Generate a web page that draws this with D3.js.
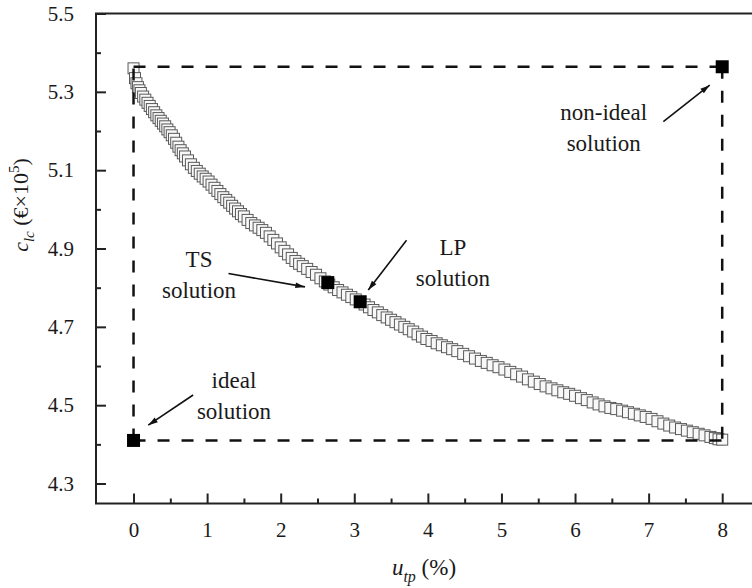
<!DOCTYPE html>
<html>
<head>
<meta charset="utf-8">
<script src="https://cdn.jsdelivr.net/npm/d3@7"></script>
<style>
  body { margin: 0; background: #fff; }
  svg { display: block; }
  text { font-family: "Times New Roman", "Liberation Serif", "DejaVu Serif", serif; fill: #1a1a1a; }
</style>
</head>
<body>
<svg id="chart" width="752" height="588"></svg>
<script>
// pareto front: u_tp (%) and c_lc (x10^5 EUR)
var paretoX = [0.00, 0.02, 0.04, 0.06, 0.08, 0.10, 0.13, 0.16, 0.19, 0.22, 0.25, 0.28, 0.31, 0.34, 0.37,
    0.40, 0.43, 0.46, 0.49, 0.52, 0.55, 0.58, 0.61, 0.64, 0.67, 0.70, 0.74, 0.78, 0.82, 0.86,
    0.90, 0.94, 0.98, 1.02, 1.06, 1.10, 1.14, 1.18, 1.22, 1.26, 1.30, 1.34, 1.38, 1.42, 1.46,
    1.50, 1.55, 1.60, 1.65, 1.70, 1.75, 1.80, 1.85, 1.90, 1.95, 2.00, 2.05, 2.10, 2.15, 2.20,
    2.25, 2.30, 2.36, 2.42, 2.48, 2.54, 2.60, 2.66, 2.72, 2.78, 2.84, 2.90, 2.96, 3.02, 3.08,
    3.14, 3.20, 3.26, 3.32, 3.38, 3.44, 3.50, 3.56, 3.62, 3.68, 3.74, 3.80, 3.86, 3.92, 3.98,
    4.05, 4.12, 4.19, 4.26, 4.33, 4.40, 4.48, 4.56, 4.64, 4.72, 4.80, 4.88, 4.96, 5.04, 5.12,
    5.20, 5.28, 5.36, 5.44, 5.52, 5.60, 5.68, 5.76, 5.84, 5.92, 6.00, 6.08, 6.16, 6.24, 6.32,
    6.40, 6.48, 6.56, 6.64, 6.72, 6.80, 6.88, 6.96, 7.04, 7.12, 7.20, 7.28, 7.36, 7.44, 7.52,
    7.60, 7.68, 7.76, 7.84, 7.90, 7.95, 8.00];
var paretoY = [5.360, 5.335, 5.322, 5.312, 5.304, 5.297, 5.288, 5.280, 5.272, 5.264, 5.256, 5.248, 5.240, 5.233, 5.226,
    5.219, 5.212, 5.204, 5.197, 5.189, 5.180, 5.170, 5.160, 5.151, 5.143, 5.135, 5.125, 5.115, 5.106, 5.098,
    5.091, 5.084, 5.078, 5.071, 5.063, 5.055, 5.047, 5.039, 5.031, 5.024, 5.017, 5.009, 5.002, 4.995, 4.988,
    4.982, 4.973, 4.965, 4.959, 4.953, 4.947, 4.940, 4.931, 4.922, 4.913, 4.903, 4.894, 4.885, 4.876, 4.868,
    4.861, 4.855, 4.848, 4.840, 4.833, 4.824, 4.816, 4.808, 4.801, 4.794, 4.788, 4.782, 4.776, 4.770, 4.764,
    4.757, 4.750, 4.743, 4.737, 4.730, 4.724, 4.718, 4.712, 4.706, 4.700, 4.694, 4.688, 4.681, 4.675, 4.669,
    4.664, 4.658, 4.653, 4.648, 4.643, 4.638, 4.631, 4.625, 4.619, 4.613, 4.608, 4.602, 4.597, 4.591, 4.585,
    4.579, 4.573, 4.566, 4.560, 4.554, 4.548, 4.543, 4.538, 4.533, 4.529, 4.524, 4.518, 4.513, 4.507, 4.502,
    4.497, 4.493, 4.490, 4.486, 4.482, 4.478, 4.474, 4.470, 4.465, 4.459, 4.453, 4.448, 4.443, 4.439, 4.435,
    4.431, 4.427, 4.423, 4.419, 4.416, 4.413, 4.412];

// highlighted solutions
var solutionNames = ["ideal", "non-ideal", "TS", "LP"];
var solutionX = [0, 8, 2.64, 3.08];
var solutionY = [4.41, 5.364, 4.813, 4.764];

// annotation texts and arrows (data units)
var labelLines = [["ideal", "solution"], ["non-ideal", "solution"], ["TS", "solution"], ["LP", "solution"]];
var labelX = [1.365, 6.39, 0.89, 4.34];
var labelY = [4.543, 5.228, 4.852, 4.883];
var arrowFrom = [[0.81, 4.526], [7.20, 5.224], [1.29, 4.836], [3.71, 4.921]];
var arrowTo = [[0.20, 4.449], [7.83, 5.317], [2.33, 4.802], [3.19, 4.794]];

var xTicks = [0, 1, 2, 3, 4, 5, 6, 7, 8];
var xMinor = [0.5, 1.5, 2.5, 3.5, 4.5, 5.5, 6.5, 7.5];
var yTicks = [4.3, 4.5, 4.7, 4.9, 5.1, 5.3, 5.5];
var yMinor = [4.4, 4.6, 4.8, 5.0, 5.2, 5.4];

var serif = "'Times New Roman', 'Liberation Serif', 'DejaVu Serif', serif";

var margin = {top: 13.5, left: 96},
    width = 663,
    height = 490;

var svg = d3.select("#chart");
var g = svg.append("g").attr("transform", "translate(" + margin.left + "," + margin.top + ")");

var x = d3.scaleLinear().domain([-0.51, 8.5]).range([0, width]);
var y = d3.scaleLinear().domain([4.249, 5.5]).range([height, 0]);

// frame
g.append("rect")
    .attr("width", width).attr("height", height)
    .attr("fill", "none").attr("stroke", "#222").attr("stroke-width", 2);

// axes, ticks inward
g.append("g").attr("transform", "translate(0," + height + ")")
    .call(d3.axisBottom(x).tickValues(xTicks).tickSize(-10).tickPadding(19).tickFormat(d3.format("d")));
g.append("g").attr("transform", "translate(0," + height + ")")
    .call(d3.axisBottom(x).tickValues(xMinor).tickSize(-5).tickFormat(""));
g.append("g")
    .call(d3.axisLeft(y).tickValues(yTicks).tickSize(-10).tickPadding(22).tickFormat(d3.format(".1f")));
g.append("g")
    .call(d3.axisLeft(y).tickValues(yMinor).tickSize(-5).tickFormat(""));

g.selectAll(".domain").remove();
g.selectAll(".tick line").attr("stroke", "#222").attr("stroke-width", 2);
g.selectAll(".tick text")
    .attr("font-family", null)
    .style("font-family", serif)
    .style("font-size", "21px")
    .attr("fill", "#1a1a1a");

// pareto points
g.append("g").selectAll("rect")
    .data(d3.range(paretoX.length))
    .enter()
    .append("rect")
    .attr("x", function (i) { return x(paretoX[i]) - 5.5; })
    .attr("y", function (i) { return y(paretoY[i]) - 5.5; })
    .attr("width", 11).attr("height", 11)
    .attr("fill", "#f8f8f8")
    .attr("stroke", "#5a5a5a")
    .attr("stroke-width", 1);

// dashed box between ideal and non-ideal
var ideal = [solutionX[0], solutionY[0]], nonIdeal = [solutionX[1], solutionY[1]];
var dashSegs = [
    [[ideal[0], ideal[1]], [nonIdeal[0], ideal[1]]],
    [[ideal[0], ideal[1]], [ideal[0], nonIdeal[1]]],
    [[ideal[0], nonIdeal[1]], [nonIdeal[0], nonIdeal[1]]],
    [[nonIdeal[0], nonIdeal[1]], [nonIdeal[0], ideal[1]]]
];
g.append("g").selectAll("line")
    .data(dashSegs)
    .enter()
    .append("line")
    .attr("x1", function (d) { return x(d[0][0]); })
    .attr("y1", function (d) { return y(d[0][1]); })
    .attr("x2", function (d) { return x(d[1][0]); })
    .attr("y2", function (d) { return y(d[1][1]); })
    .attr("stroke", "#111")
    .attr("stroke-width", 2.5)
    .attr("stroke-dasharray", "12,12");

// solution markers
g.append("g").selectAll("rect")
    .data(d3.range(solutionNames.length))
    .enter()
    .append("rect")
    .attr("x", function (i) { return x(solutionX[i]) - 6.5; })
    .attr("y", function (i) { return y(solutionY[i]) - 6.5; })
    .attr("width", 13).attr("height", 13)
    .attr("fill", "#000");

// arrows
svg.append("defs").append("marker")
    .attr("id", "head")
    .attr("viewBox", "0 -5 12 10")
    .attr("refX", 12).attr("refY", 0)
    .attr("markerUnits", "userSpaceOnUse")
    .attr("markerWidth", 12).attr("markerHeight", 8)
    .attr("orient", "auto")
    .append("path")
    .attr("d", "M0,-3.6L12,0L0,3.6Z")
    .attr("fill", "#111");

g.append("g").selectAll("line")
    .data(d3.range(arrowFrom.length))
    .enter()
    .append("line")
    .attr("x1", function (i) { return x(arrowFrom[i][0]); })
    .attr("y1", function (i) { return y(arrowFrom[i][1]); })
    .attr("x2", function (i) { return x(arrowTo[i][0]); })
    .attr("y2", function (i) { return y(arrowTo[i][1]); })
    .attr("stroke", "#111")
    .attr("stroke-width", 1.6)
    .attr("marker-end", "url(#head)");

// annotation text
labelLines.forEach(function (lines, i) {
    lines.forEach(function (s, j) {
        g.append("text")
            .attr("x", x(labelX[i]))
            .attr("y", y(labelY[i]) + j * 31)
            .attr("text-anchor", "middle")
            .style("font-family", serif)
            .style("font-size", "23px")
            .text(s);
    });
});

// axis titles
var xt = svg.append("text")
    .attr("x", 424).attr("y", 575)
    .attr("text-anchor", "middle")
    .style("font-family", serif)
    .style("font-size", "23px");
xt.append("tspan").style("font-style", "italic").text("u");
xt.append("tspan").style("font-style", "italic").style("font-size", "16px").attr("dy", 7).text("tp");
xt.append("tspan").attr("dy", -7).text(" (%)");

var yt = svg.append("text")
    .attr("transform", "translate(28,205) rotate(-90)")
    .attr("text-anchor", "middle")
    .style("font-family", serif)
    .style("font-size", "22px");
yt.append("tspan").style("font-style", "italic").text("c");
yt.append("tspan").style("font-style", "italic").style("font-size", "15px").attr("dy", 6).text("lc");
yt.append("tspan").attr("dy", -6).text(" (\u20ac\u00d710");
yt.append("tspan").style("font-size", "15px").attr("dy", -9).text("5");
yt.append("tspan").attr("dy", 9).text(")");
</script>
</body>
</html>
